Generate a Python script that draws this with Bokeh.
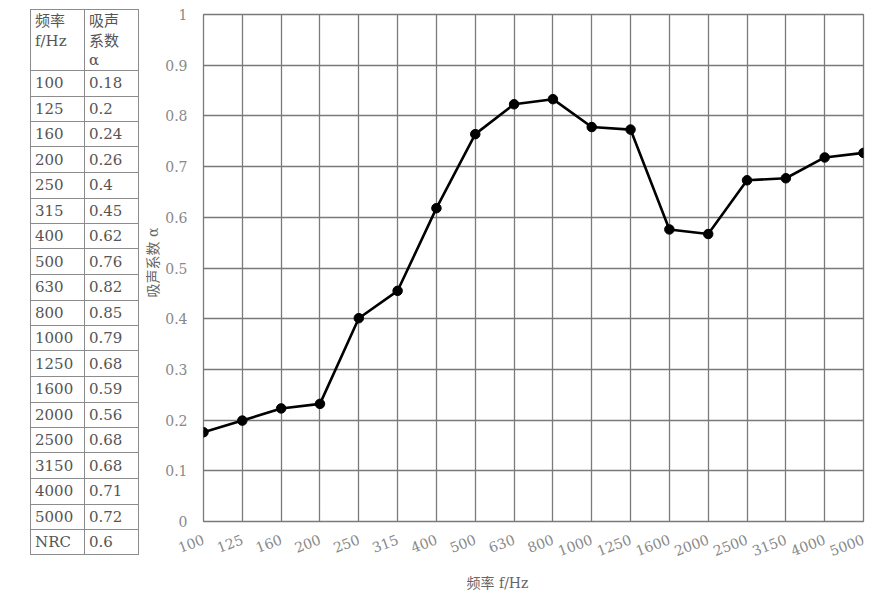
from bokeh.plotting import figure
from bokeh.layouts import row
from bokeh.models import Range1d, FixedTicker, Title, Div
from bokeh.embed import file_html
from bokeh.resources import INLINE

# ---- data ----
freq_labels = ["100", "125", "160", "200", "250", "315", "400", "500", "630", "800",
               "1000", "1250", "1600", "2000", "2500", "3150", "4000", "5000"]
curve_alpha = [0.176, 0.199, 0.223, 0.232, 0.401, 0.455, 0.618, 0.764, 0.823, 0.833,
               0.778, 0.773, 0.576, 0.567, 0.673, 0.677, 0.718, 0.727]
table_freq = freq_labels + ["NRC"]
table_alpha = ["0.18", "0.2", "0.24", "0.26", "0.4", "0.45", "0.62", "0.76", "0.82", "0.85",
               "0.79", "0.68", "0.59", "0.56", "0.68", "0.68", "0.71", "0.72", "0.6"]
header_freq = ["频率", "f/Hz"]
header_alpha = ["吸声", "系数", "α"]
y_ticks = [0, 0.1, 0.2, 0.3, 0.4, 0.5, 0.6, 0.7, 0.8, 0.9, 1]
y_labels = ["0", "0.1", "0.2", "0.3", "0.4", "0.5", "0.6", "0.7", "0.8", "0.9", "1"]
x_title = "频率 f/Hz"
y_title = "吸声系数 α"

FONT = "DejaVu Serif, 'Noto Sans CJK SC'"
TXT = "#555555"
TICK = "#888888"
GRID = "#7a7a7a"
LINE = "#8c8c8c"

H = 598

# ---- table (HTML) ----
TW = 140
x_l, x_m, x_r = 30, 84, 138
y_t, y_h = 9, 70
row_h = 25.5
n = len(table_freq)
parts = []
hy = [y_t, y_h] + [y_h + row_h * (i + 1) for i in range(n)]
for y in hy:
    parts.append(f'<div style="position:absolute;left:{x_l}px;top:{round(y)}px;'
                 f'width:{x_r - x_l + 1}px;height:1px;background:{LINE}"></div>')
y_b = round(hy[-1])
for x in (x_l, x_m, x_r):
    parts.append(f'<div style="position:absolute;left:{x}px;top:{y_t}px;'
                 f'width:1px;height:{y_b - y_t + 1}px;background:{LINE}"></div>')
lh = 19.5
for col_x, lines in ((x_l, header_freq), (x_m, header_alpha)):
    for k, t in enumerate(lines):
        parts.append(f'<div style="position:absolute;left:{col_x + 5}px;top:{12 + k * lh}px;'
                     f'height:{lh}px;line-height:{lh}px;white-space:nowrap">{t}</div>')
for i, (f, a) in enumerate(zip(table_freq, table_alpha)):
    top = y_h + row_h * i + 1
    for col_x, t in ((x_l, f), (x_m, a)):
        parts.append(f'<div style="position:absolute;left:{col_x + 5}px;top:{top}px;'
                     f'height:{row_h}px;line-height:{row_h}px;white-space:nowrap">{t}</div>')
html = (f'<div style="position:relative;width:{TW}px;height:{H - 2}px;'
        f'font-family:\'DejaVu Serif\',\'Noto Sans CJK SC\',serif;font-size:15px;color:{TXT}">'
        + "".join(parts) + '</div>')
table = Div(text=html, width=TW, height=H - 2, margin=(0, 0, 0, 0))

# ---- chart figure ----
p = figure(width=738, height=H, x_range=Range1d(0, len(freq_labels) - 1), y_range=Range1d(0, 1),
           toolbar_location=None, output_backend="svg",
           min_border_left=60, min_border_right=15, min_border_top=14, min_border_bottom=77)
p.outline_line_color = GRID
p.outline_line_width = 1.3

xs = list(range(len(freq_labels)))
p.xaxis.ticker = FixedTicker(ticks=xs)
p.xaxis.major_label_overrides = {i: lab for i, lab in enumerate(freq_labels)}
p.xaxis.major_label_orientation = 0.36
p.yaxis.ticker = FixedTicker(ticks=y_ticks)
p.yaxis.major_label_overrides = {t: lab for t, lab in zip(y_ticks, y_labels)}

for ax in p.axis:
    ax.axis_line_color = None
    ax.major_tick_line_color = None
    ax.minor_tick_line_color = None
    ax.major_label_text_font = FONT
    ax.major_label_text_font_size = "14px"
    ax.major_label_text_color = TICK
p.xaxis.major_label_standoff = 11
p.yaxis.major_label_standoff = 10

p.xgrid.ticker = FixedTicker(ticks=xs)
p.ygrid.ticker = FixedTicker(ticks=y_ticks)
p.grid.grid_line_color = GRID
p.grid.grid_line_width = 1.3
p.grid.grid_line_alpha = 1.0

p.line(xs, curve_alpha, line_color="black", line_width=2.6)
p.scatter(xs, curve_alpha, size=9.5, fill_color="black", line_color="black")

# axis titles
p.add_layout(Title(text=x_title, align="left", offset=263, text_font=FONT,
                   text_font_size="14px", text_font_style="normal",
                   text_color="#666666", standoff=16), "below")
p.add_layout(Title(text=y_title, align="left", offset=224, text_font=FONT,
                   text_font_size="14px", text_font_style="normal",
                   text_color="#666666", standoff=4), "left")

layout = row(table, p)
open("out.html", "w").write(file_html(layout, INLINE))
